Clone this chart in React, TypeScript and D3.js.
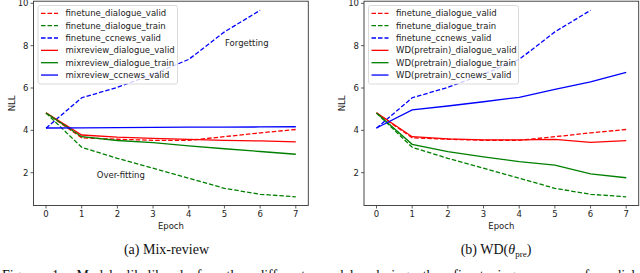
import React from 'react';
import * as d3 from 'd3';

// epochs on the x axis
const EPOCHS = [0, 1, 2, 3, 4, 5, 6, 7];
const X_TICKS = [0, 1, 2, 3, 4, 5, 6, 7];
const Y_TICKS = [2, 4, 6, 8, 10];

// finetune runs (same in both panels)
const FT_DIALOGUE_VALID = [4.82, 3.65, 3.58, 3.53, 3.53, 3.7, 3.88, 4.04];
const FT_DIALOGUE_TRAIN = [4.82, 3.2, 2.68, 2.21, 1.74, 1.26, 0.98, 0.86];
const FT_CCNEWS_VALID = [4.1, 5.54, 6.03, 6.65, 7.35, 8.65, 9.67];

// (a) mix-review
const MIX_DIALOGUE_VALID = [4.83, 3.78, 3.68, 3.62, 3.57, 3.53, 3.5, 3.46];
const MIX_DIALOGUE_TRAIN = [4.82, 3.7, 3.52, 3.42, 3.27, 3.13, 3.0, 2.87];
const MIX_CCNEWS_VALID = [4.11, 4.12, 4.13, 4.14, 4.15, 4.15, 4.16, 4.17];

// (b) WD(pretrain)
const WD_DIALOGUE_VALID = [4.83, 3.7, 3.6, 3.55, 3.55, 3.57, 3.43, 3.51];
const WD_DIALOGUE_TRAIN = [4.82, 3.34, 2.99, 2.75, 2.52, 2.36, 1.94, 1.76];
const WD_CCNEWS_VALID = [4.11, 4.97, 5.15, 5.35, 5.56, 5.93, 6.29, 6.74];

const FONT = 'DejaVu Sans, sans-serif';
const SERIF = 'Liberation Serif, Times New Roman, serif';

type Series = { name: string; values: number[]; color: string; dashed: boolean };

function makeSeries(prefix: string, valid: number[], train: number[], ccnews: number[]): Series[] {
  return [
    { name: 'finetune_dialogue_valid', values: FT_DIALOGUE_VALID, color: '#ff0000', dashed: true },
    { name: 'finetune_dialogue_train', values: FT_DIALOGUE_TRAIN, color: '#008000', dashed: true },
    { name: 'finetune_ccnews_valid', values: FT_CCNEWS_VALID, color: '#0000ff', dashed: true },
    { name: prefix + '_dialogue_valid', values: valid, color: '#ff0000', dashed: false },
    { name: prefix + '_dialogue_train', values: train, color: '#008000', dashed: false },
    { name: prefix + '_ccnews_valid', values: ccnews, color: '#0000ff', dashed: false }
  ];
}

const Panel = (props: {
  left: number; right: number; series: Series[]; legendWidth: number;
  notes: { text: string; x: number; y: number }[];
}) => {
  const { left, right, series, legendWidth, notes } = props;
  const top = 1.2, bottom = 205.5;
  const x = d3.scaleLinear().domain([-0.35, 7.35]).range([left, right]);
  const y = d3.scaleLinear().domain([0.45, 10.1]).range([bottom, top]);
  const line = d3.line<number>().x((d, i) => x(EPOCHS[i])).y(d => y(d));
  const midX = (left + right) / 2;
  const lx = left + 4.5;
  return (
    <g>
      {series.map(s => (
        <path key={s.name} d={line(s.values) || ''} fill='none' stroke={s.color}
          strokeWidth={1.3} strokeDasharray={s.dashed ? '4.5,2' : undefined} />
      ))}
      <rect x={left} y={top} width={right - left} height={bottom - top}
        fill='none' stroke='#333' strokeWidth={0.9} />
      {X_TICKS.map(t => (
        <g key={'x' + t}>
          <line x1={x(t)} x2={x(t)} y1={bottom} y2={bottom + 3} stroke='#333' strokeWidth={0.8} />
          <text x={x(t)} y={217} textAnchor='middle' fontSize={8.5} fontFamily={FONT} fill='#222'>{t}</text>
        </g>
      ))}
      {Y_TICKS.map(t => (
        <g key={'y' + t}>
          <line x1={left - 3} x2={left} y1={y(t)} y2={y(t)} stroke='#333' strokeWidth={0.8} />
          <text x={left - 5} y={y(t) + 3} textAnchor='end' fontSize={8.5} fontFamily={FONT} fill='#222'>{t}</text>
        </g>
      ))}
      <text x={midX} y={228.5} textAnchor='middle' fontSize={8.5} fontFamily={FONT} fill='#222'>Epoch</text>
      <text transform={`translate(${left - 19},${(top + bottom) / 2}) rotate(-90)`} textAnchor='middle'
        fontSize={8.5} fontFamily={FONT} fill='#222'>NLL</text>
      {notes.map(n => (
        <text key={n.text} x={n.x} y={n.y} fontSize={8.5} fontFamily={FONT} fill='#222'>{n.text}</text>
      ))}
      <rect x={lx} y={5.5} width={legendWidth} height={78.5} rx={2} fill='#fff' fillOpacity={0.8}
        stroke='#d0d0d0' strokeWidth={0.8} />
      {series.map((s, i) => {
        const ry = 13.3 + i * 12.35;
        return (
          <g key={'leg' + s.name}>
            <line x1={lx + 3} x2={lx + 20} y1={ry} y2={ry} stroke={s.color} strokeWidth={1.3}
              strokeDasharray={s.dashed ? '4.5,2' : undefined} />
            <text x={lx + 27.5} y={ry + 3} fontSize={8.5} fontFamily={FONT} fill='#222'>{s.name}</text>
          </g>
        );
      })}
    </g>
  );
};

export default function App() {
  const seriesA = makeSeries('mixreview', MIX_DIALOGUE_VALID, MIX_DIALOGUE_TRAIN, MIX_CCNEWS_VALID);
  const seriesB = makeSeries('WD(pretrain)', WD_DIALOGUE_VALID, WD_DIALOGUE_TRAIN, WD_CCNEWS_VALID);
  return (
    <svg width={640} height={273} style={{ position: 'absolute', left: 0, top: 0, background: '#fff' }}>
      <Panel left={33.5} right={308.3} series={seriesA} legendWidth={139.5}
        notes={[{ text: 'Forgetting', x: 225, y: 46 }, { text: 'Over-fitting', x: 96.7, y: 178 }]} />
      <Panel left={364} right={638.7} series={seriesB} legendWidth={150} notes={[]} />
      <text x={166.5} y={253.5} textAnchor='middle' fontSize={14} fontFamily={SERIF} fill='#111'>(a) Mix-review</text>
      <text x={496} y={253.5} textAnchor='middle' fontSize={14} fontFamily={SERIF} fill='#111'>
        (b) WD(<tspan fontStyle='italic'>θ</tspan><tspan fontSize={9} dy={3}>pre</tspan><tspan dy={-3}>)</tspan>
      </text>
      <text x={2} y={279.5} fontSize={14} fontFamily={SERIF} fill='#111' wordSpacing={10}>
        Figure 1:  Model likelihood for the different models during the fine-tuning process for dialogue
      </text>
    </svg>
  );
}
